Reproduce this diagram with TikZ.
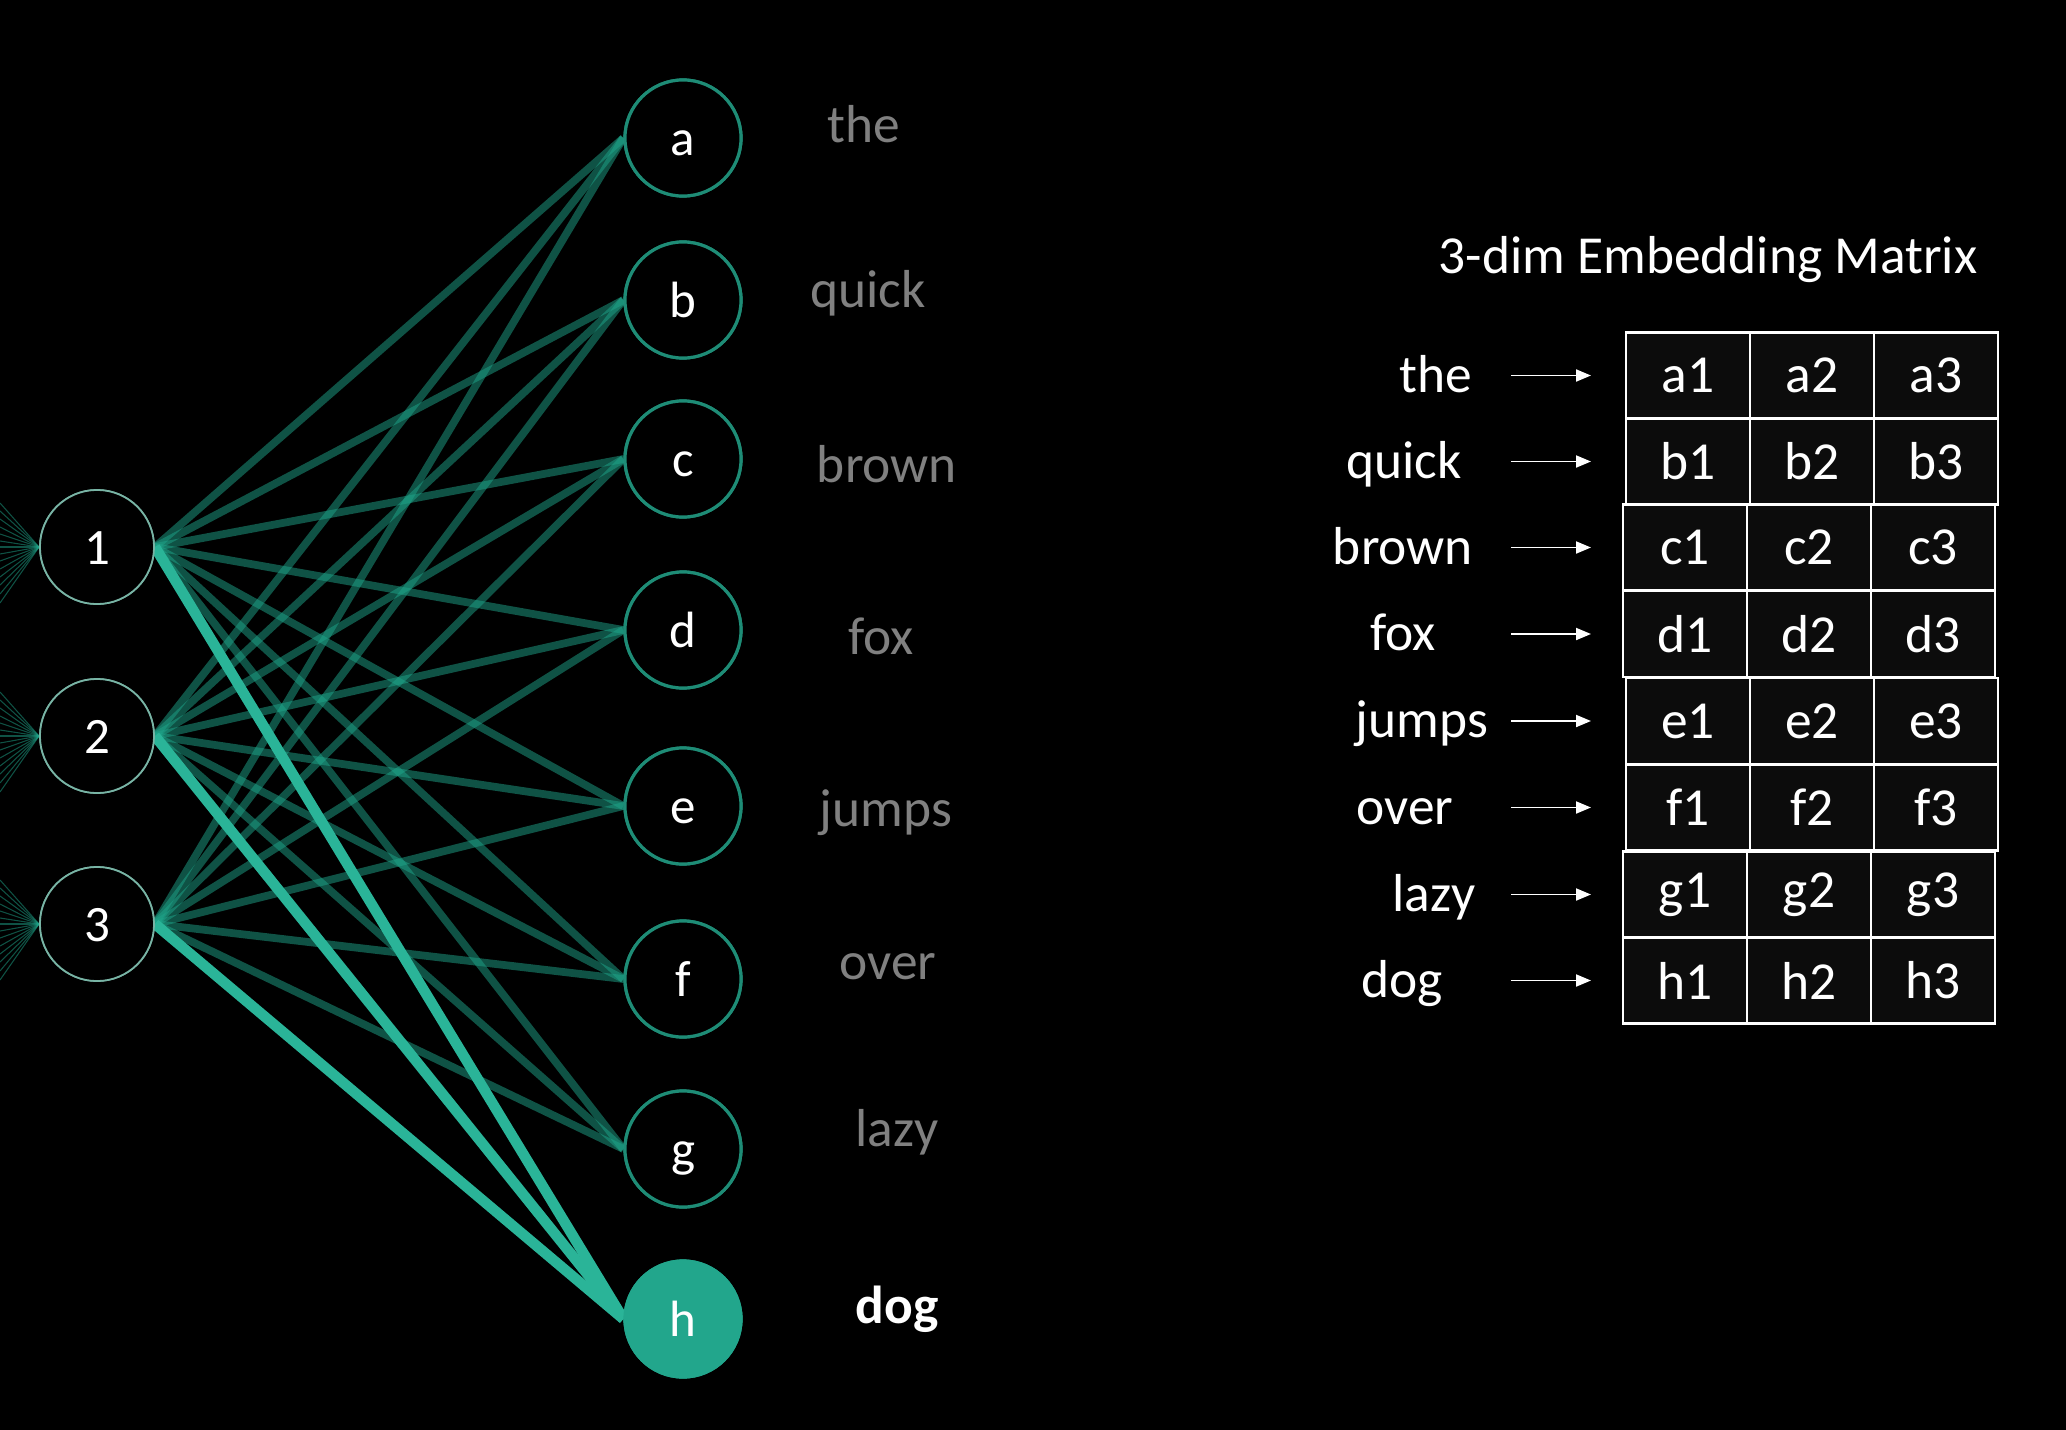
\documentclass[tikz,border=0pt]{standalone}
\usepackage{fontspec}
\setmainfont{Carlito}
\usetikzlibrary{arrows.meta}
\definecolor{tealedge}{RGB}{30,165,138}
\definecolor{tealbright}{RGB}{42,180,152}
\definecolor{tealfill}{RGB}{34,166,140}
\definecolor{tealborder}{RGB}{30,140,118}
\definecolor{numborder}{RGB}{120,180,165}
\definecolor{wordgray}{RGB}{128,128,128}
\definecolor{cellfill}{RGB}{12,12,12}
\tikzset{
  numnode/.style={circle, draw=numborder, line width=0.5pt, fill=black, minimum size=1.14cm, inner sep=0pt, text=white, text height=10.2pt, text depth=0pt, font=\fontsize{14.5}{17}\selectfont},
  letnode/.style={circle, draw=tealborder, line width=0.9pt, fill=black, minimum size=1.16cm, inner sep=0pt, text=white, text height=10.2pt, text depth=0pt, font=\fontsize{14.5}{17}\selectfont},
  hotnode/.style={letnode, fill=tealfill, draw=tealfill},
  edge/.style={draw=tealedge, line width=2.2pt, opacity=0.5},
  hotedge/.style={draw=tealbright, line width=3pt},
  fan/.style={draw=tealedge, line width=0.3pt, opacity=0.5},
  grayword/.style={anchor=base, text=wordgray, inner sep=0pt, font=\fontsize{15.2}{18}\selectfont},
  boldword/.style={anchor=base, text=white, inner sep=0pt, font=\fontsize{15.2}{18}\selectfont\bfseries},
  mword/.style={anchor=base, text=white, inner sep=0pt, font=\fontsize{15.2}{18}\selectfont},
  cell/.style={draw=white, line width=0.8pt, fill=cellfill, minimum width=1.24cm, minimum height=0.86cm, inner sep=0pt, text=white, font=\fontsize{15.2}{18}\selectfont},
  maparrow/.style={draw=white, line width=0.55pt, -{Triangle[length=0.15cm,width=0.12cm]}}
}
\begin{document}
\begin{tikzpicture}[x=0.01cm,y=-0.01cm]
\fill[black] (0,0) rectangle (2066,1430);
\useasboundingbox (0,0) rectangle (2066,1430);

% number nodes
\node[numnode] (n1) at (97,547) {1};
\node[numnode] (n2) at (97,736) {2};
\node[numnode] (n3) at (97,924) {3};

% letter nodes
\node[letnode] (a) at (683,138) {a};
\node[letnode] (b) at (683,300) {b};
\node[letnode] (c) at (683,459) {c};
\node[letnode] (d) at (683,630) {d};
\node[letnode] (e) at (683,806) {e};
\node[letnode] (f) at (683,979) {f};
\node[letnode] (g) at (683,1149) {g};
\node[hotnode] (h) at (683,1319) {h};

% fan lines from the left edge
\foreach \n/\yy in {n1/547,n2/736,n3/924}{
  \foreach \o in {-44,-36,-28,-20,-13,-6,0,7,14,22,30,38,47,56}{
    \coordinate (fan-\n-\o) at (0,\yy+\o);
    \draw[fan] (fan-\n-\o) -- (\n.west);
  }
}

% edges
\foreach \n in {n1,n2,n3}{
  \foreach \l in {a,b,c,d,e,f,g}{
    \draw[edge] (\n.east) -- (\l.west);
  }
}
\foreach \n in {n1,n2,n3}{
  \draw[hotedge] (\n.east) -- (h.west);
}

% redraw nodes on top
\node[numnode] at (n1) {1};
\node[numnode] at (n2) {2};
\node[numnode] at (n3) {3};
\node[letnode] at (a) {a};
\node[letnode] at (b) {b};
\node[letnode] at (c) {c};
\node[letnode] at (d) {d};
\node[letnode] at (e) {e};
\node[letnode] at (f) {f};
\node[letnode] at (g) {g};
\node[hotnode] at (h) {h};

% gray words
\node[grayword] (wthe) at (864,142) {the};
\node[grayword] (wquick) at (868,307) {quick};
\node[grayword] (wbrown) at (887,482) {brown};
\node[grayword] (wfox) at (881,654) {fox};
\node[grayword] (wjumps) at (886,826) {jumps};
\node[grayword] (wover) at (888,979) {over};
\node[grayword] (wlazy) at (897,1146) {lazy};
\node[boldword] (wdog) at (897,1323) {dog};

% title
\node[mword] (title) at (1708,273) {3-dim Embedding Matrix};

% matrix
\foreach \r/\yy/\dx in {a/375.5/0, b/461.5/0, c/547.5/-3, d/634/-3, e/721/0, f/807.5/0, g/894.5/-3, h/980.5/-3}{
  \node[cell] (\r1) at (1688+\dx,\yy) {\r1};
  \node[cell] (\r2) at (1812+\dx,\yy) {\r2};
  \node[cell] (\r3) at (1936+\dx,\yy) {\r3};
  \coordinate (arrs-\r) at (1511,\yy);
  \coordinate (arre-\r) at (1591,\yy);
  \draw[maparrow] (arrs-\r) -- (arre-\r);
}
\node[mword] (mthe) at (1436,392) {the};
\node[mword] (mquick) at (1404,478) {quick};
\node[mword] (mbrown) at (1403,564) {brown};
\node[mword] (mfox) at (1403,650) {fox};
\node[mword] (mjumps) at (1422,737) {jumps};
\node[mword] (mover) at (1405,824) {over};
\node[mword] (mlazy) at (1434,911) {lazy};
\node[mword] (mdog) at (1402,997) {dog};
\end{tikzpicture}
\end{document}
